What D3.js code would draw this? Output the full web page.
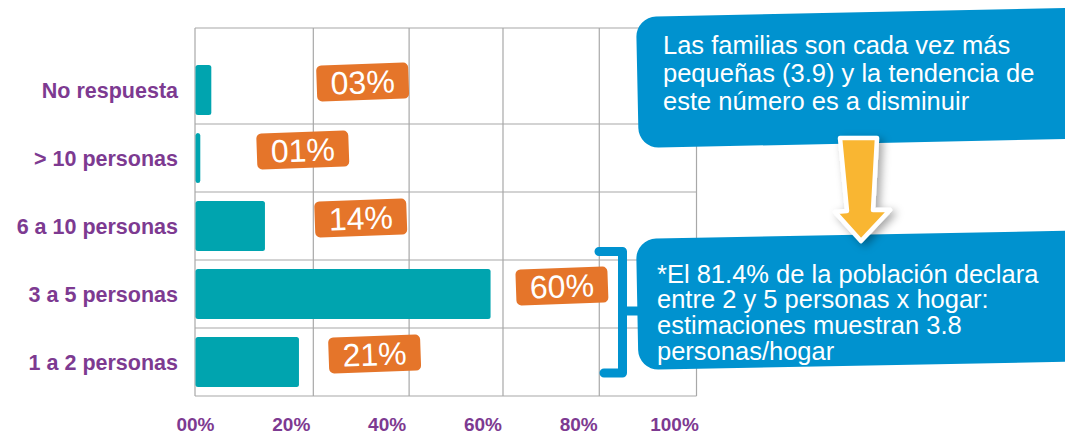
<!DOCTYPE html>
<html>
<head>
<meta charset="utf-8">
<script src="https://cdn.jsdelivr.net/npm/d3@7"></script>
<style>
  html, body { margin: 0; padding: 0; background: #fff; }
  svg { display: block; font-family: "Liberation Sans", Arial, Helvetica, sans-serif; }
</style>
</head>
<body>
<svg id="chart" width="1065" height="435"></svg>
<script>
// ---- data ----
const categories = ["No respuesta", "> 10 personas", "6 a 10 personas", "3 a 5 personas", "1 a 2 personas"];
const values = [3.3, 1.0, 14.5, 61.6, 21.6];          // bar lengths (%)
const valueLabels = ["03%", "01%", "14%", "60%", "21%"];
const labelAt = [35.0, 22.5, 34.6, 76.6, 37.5];        // where each badge sits, in % units
const tickValues = [0, 20, 40, 60, 80, 100];
const tickLabels = ["00%", "20%", "40%", "60%", "80%", "100%"];
const gridAt = [0, 24.7, 44.7, 64.3, 84.4, 104.7];      // decorative vertical grid lines, in % units
const note1 = ["Las familias son cada vez más", "pequeñas (3.9) y la tendencia de", "este número es a disminuir"];
const note2 = ["*El 81.4% de la población declara", "entre 2 y 5 personas x hogar:", "estimaciones muestran 3.8", "personas/hogar"];

// ---- styles ----
const PURPLE = "#7D3A91", TEAL = "#00A4AF", ORANGE = "#E5752A", BLUE = "#0092CF", YELLOW = "#F9B633", GRID = "#A8A8A8";

const svg = d3.select("#chart");
const defs = svg.append("defs");
const f = defs.append("filter").attr("id", "shadow").attr("x", "-50%").attr("y", "-50%").attr("width", "200%").attr("height", "200%");
f.append("feDropShadow").attr("dx", 4).attr("dy", 3).attr("stdDeviation", 4).attr("flood-color", "#000").attr("flood-opacity", 0.35);

const frameTop = 28;
const x = d3.scaleLinear().domain([0, 100]).range([195, 674]);
const y = d3.scaleBand().domain(categories).range([56, 396]).paddingInner(0);
const yBottom = y.range()[1];
const bandH = y.bandwidth();
const barH = 50;

// grid
const g = svg.append("g");
g.selectAll("line.v").data(gridAt).join("line")
  .attr("x1", d => x(d)).attr("x2", d => x(d))
  .attr("y1", frameTop).attr("y2", yBottom)
  .attr("stroke", GRID).attr("stroke-width", 1.2);
const hLines = [frameTop].concat(categories.slice(1).map(c => y(c)), [yBottom]);
g.selectAll("line.h").data(hLines).join("line")
  .attr("x1", x(gridAt[0])).attr("x2", x(gridAt[gridAt.length - 1]))
  .attr("y1", d => d).attr("y2", d => d)
  .attr("stroke", GRID).attr("stroke-width", 1.2);

// bars
svg.append("g").selectAll("rect").data(categories).join("rect")
  .attr("x", x(0) + 0.5)
  .attr("y", c => y(c) + (bandH - barH) / 2)
  .attr("width", (c, i) => x(values[i]) - x(0))
  .attr("height", barH)
  .attr("rx", 2.5)
  .attr("fill", TEAL);

// category labels
svg.append("g").selectAll("text").data(categories).join("text")
  .attr("x", 178)
  .attr("y", c => y(c) + bandH / 2 + 8)
  .attr("text-anchor", "end")
  .attr("font-size", 21.5)
  .attr("font-weight", "bold")
  .attr("fill", PURPLE)
  .text(c => c);

// x tick labels
const xAxis = d3.axisBottom(x).tickValues(tickValues).tickFormat((d, i) => tickLabels[i]).tickSize(0).tickPadding(0);
const ax = svg.append("g").attr("transform", `translate(0,${417})`).call(xAxis);
ax.select(".domain").remove();
ax.selectAll("text").attr("font-size", 19).attr("font-weight", "bold").attr("fill", PURPLE)
  .attr("font-family", "\"Liberation Sans\", Arial, sans-serif").attr("dy", "0.71em");

// value badges
const badges = svg.append("g").selectAll("g").data(categories).join("g")
  .attr("transform", (c, i) => `translate(${x(labelAt[i])},${y(c) + bandH / 2 - 8}) rotate(-2)`);
badges.append("rect")
  .attr("x", -46).attr("y", -18).attr("width", 92).attr("height", 36).attr("rx", 5)
  .attr("fill", ORANGE);
badges.append("text")
  .attr("text-anchor", "middle").attr("y", 11.5)
  .attr("font-size", 32).attr("fill", "#fff")
  .text((c, i) => valueLabels[i]);

// bracket
const br = svg.append("g").attr("fill", "none").attr("stroke", BLUE).attr("stroke-width", 9)
  .attr("stroke-linecap", "round").attr("stroke-linejoin", "round");
br.append("path").attr("d", d3.line()([[599, 251.5], [622.5, 251.5], [622.5, 373], [604, 373]]));
br.append("path").attr("d", d3.line()([[622.5, 311], [642, 311]])).attr("stroke-linecap", "butt");

// callouts
function callout(x0, y0, w, h, angle, lines, tx, ty, lh) {
  const cg = svg.append("g");
  cg.append("rect").attr("x", x0).attr("y", y0).attr("width", w).attr("height", h).attr("rx", 20)
    .attr("fill", BLUE).attr("transform", `rotate(${angle},${x0},${y0})`);
  cg.append("g").selectAll("text").data(lines).join("text")
    .attr("x", tx).attr("y", (d, i) => ty + i * lh)
    .attr("font-size", 25.5).attr("fill", "#fff")
    .text(d => d);
}
callout(636, 17, 470, 131, -1.2, note1, 663, 53.5, 28.3);
callout(636, 239, 470, 131, -1.1, note2, 657, 282.5, 25.9);

// yellow arrow
const arrowPts = [[840, 138], [877, 138], [873, 210], [890, 210], [861, 241], [835, 212], [847, 211]];
svg.append("path")
  .attr("d", d3.line().curve(d3.curveLinearClosed)(arrowPts))
  .attr("fill", YELLOW).attr("stroke", "#fff").attr("stroke-width", 4.5).attr("stroke-linejoin", "round")
  .attr("filter", "url(#shadow)");
</script>
</body>
</html>
